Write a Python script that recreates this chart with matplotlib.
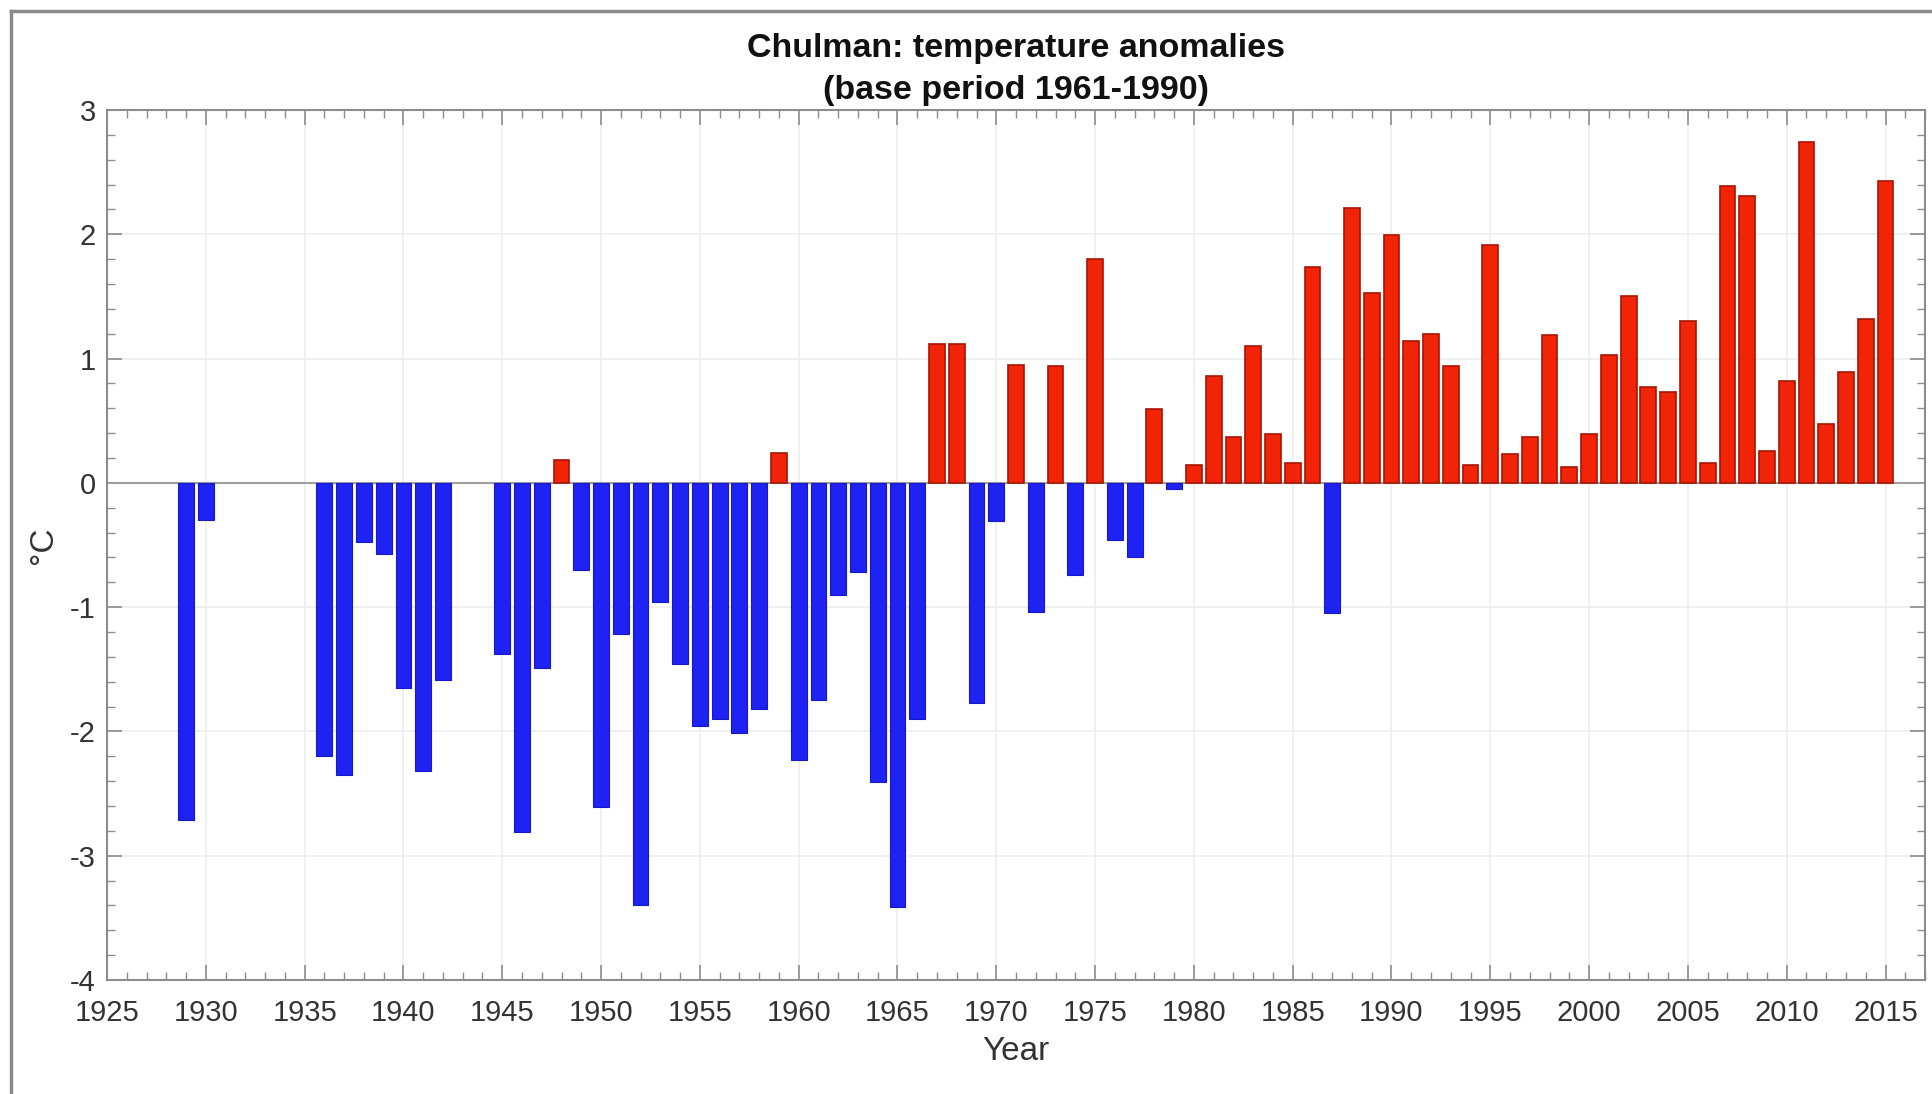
import numpy as np
import matplotlib.pyplot as plt
from matplotlib.lines import Line2D
from matplotlib.ticker import MultipleLocator

# Chulman temperature anomalies, base period 1961-1990
years = [1929, 1930,
         1936, 1937, 1938, 1939, 1940, 1941, 1942,
         1945, 1946, 1947, 1948, 1949, 1950, 1951, 1952, 1953, 1954,
         1955, 1956, 1957, 1958, 1959, 1960, 1961, 1962, 1963, 1964,
         1965, 1966, 1967, 1968, 1969, 1970, 1971, 1972, 1973, 1974,
         1975, 1976, 1977, 1978, 1979, 1980, 1981, 1982, 1983, 1984,
         1985, 1986, 1987, 1988, 1989, 1990, 1991, 1992, 1993, 1994,
         1995, 1996, 1997, 1998, 1999, 2000, 2001, 2002, 2003, 2004,
         2005, 2006, 2007, 2008, 2009, 2010, 2011, 2012, 2013, 2014,
         2015]
anom = [-2.71, -0.30,
        -2.20, -2.35, -0.48, -0.57, -1.65, -2.32, -1.59,
        -1.38, -2.81, -1.49, 0.18, -0.70, -2.61, -1.22, -3.40, -0.96, -1.46,
        -1.96, -1.90, -2.01, -1.82, 0.24, -2.23, -1.75, -0.90, -0.72, -2.41,
        -3.41, -1.90, 1.12, 1.12, -1.77, -0.31, 0.95, -1.04, 0.94, -0.74,
        1.80, -0.46, -0.60, 0.59, -0.05, 0.14, 0.86, 0.37, 1.10, 0.39,
        0.16, 1.74, -1.05, 2.21, 1.53, 1.99, 1.14, 1.20, 0.94, 0.14,
        1.91, 0.23, 0.37, 1.19, 0.13, 0.39, 1.03, 1.50, 0.77, 0.73,
        1.30, 0.16, 2.39, 2.31, 0.26, 0.82, 2.74, 0.47, 0.89, 1.32,
        2.43]

years = np.array(years)
anom = np.array(anom)
pos = anom >= 0

plt.rcParams['font.family'] = ['Liberation Sans', 'DejaVu Sans']
plt.rcParams['axes.unicode_minus'] = False
txt = '#333333'
axc = '#8c8c8c'

fig = plt.figure(figsize=(19.32, 10.94), dpi=100)
ax = fig.add_axes([0.0554, 0.1042, 0.9410, 0.7953])

ax.bar(years[~pos], anom[~pos], width=0.8, color='#1e22f2', edgecolor='#1818c8',
       linewidth=0.8, zorder=3)
ax.bar(years[pos], anom[pos], width=0.8, color='#f22408', edgecolor='#a81400',
       linewidth=1.2, zorder=3)
ax.axhline(0, color='#a0a0a0', lw=1.5, zorder=2)

ax.set_xlim(1925, 2017)
ax.set_ylim(-4, 3)
ax.xaxis.set_major_locator(MultipleLocator(5))
ax.xaxis.set_minor_locator(MultipleLocator(1))
ax.yaxis.set_major_locator(MultipleLocator(1))
ax.yaxis.set_minor_locator(MultipleLocator(0.2))
ax.grid(True, which='major', color='#eeeeee', lw=1.2, zorder=0)
ax.set_axisbelow(True)
ax.tick_params(which='both', direction='in', top=True, right=True,
               color=axc, labelcolor=txt, labelsize=21)
ax.tick_params(which='major', length=11, width=1.2)
ax.tick_params(which='minor', length=6, width=1.0)
ax.tick_params(axis='x', pad=14)
ax.tick_params(axis='y', pad=8)
for s in ax.spines.values():
    s.set_color(axc)
    s.set_linewidth(1.5)

ax.set_title('Chulman: temperature anomalies\n(base period 1961-1990)',
             fontsize=24.5, fontweight='bold', color='#111111', pad=8,
             linespacing=1.45)
ax.set_xlabel('Year', fontsize=24, color=txt, labelpad=6)
ax.set_ylabel('°C', fontsize=24, color=txt, labelpad=8)

# screenshot frame
fig.add_artist(Line2D([0.0057, 0.0057], [0, 0.990], transform=fig.transFigure,
                      color='#8a8a8a', lw=2.5))
fig.add_artist(Line2D([0.0057, 1.0], [0.990, 0.990], transform=fig.transFigure,
                      color='#8a8a8a', lw=2.5))

fig.savefig('out.png', dpi=100, facecolor='white')
